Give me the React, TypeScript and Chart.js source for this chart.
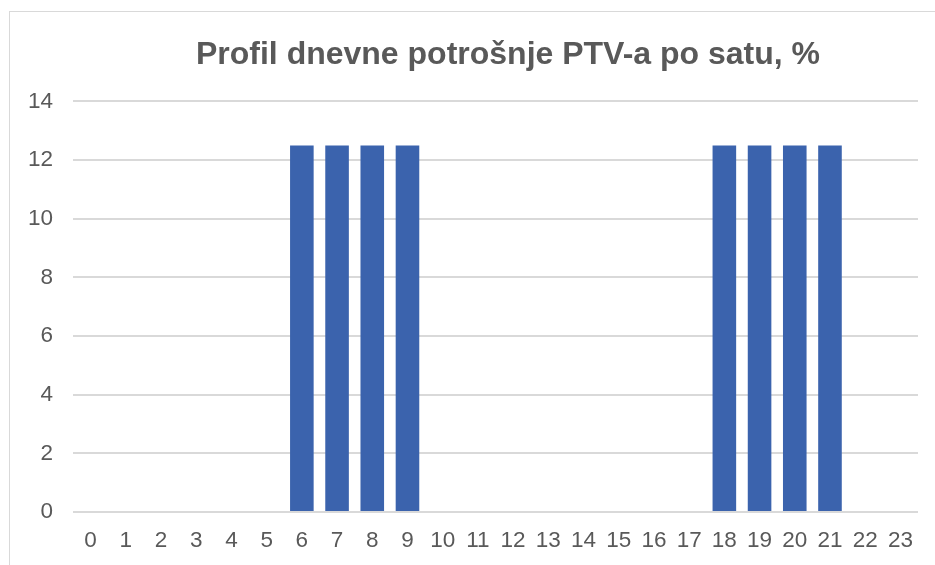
import React, { useEffect, useRef } from "react";
import { Chart, registerables } from "chart.js";

Chart.register(...registerables);

const hours: string[] = ["0","1","2","3","4","5","6","7","8","9","10","11","12","13","14","15","16","17","18","19","20","21","22","23"];
const consumption: number[] = [0,0,0,0,0,0,12.5,12.5,12.5,12.5,0,0,0,0,0,0,0,0,12.5,12.5,12.5,12.5,0,0];
const yTicks: number[] = [0, 2, 4, 6, 8, 10, 12, 14];
const titleText = "Profil dnevne potrošnje PTV-a po satu, %";

export default function App() {
  const ref = useRef<HTMLCanvasElement | null>(null);
  useEffect(() => {
    document.body.style.margin = "0";
    document.body.style.overflow = "hidden";
    if (!ref.current) return;
    const chart = new Chart(ref.current, {
      type: "bar",
      data: {
        labels: hours,
        datasets: [
          {
            data: consumption,
            backgroundColor: "#3B63AD",
            borderWidth: 0,
            barPercentage: 0.67,
            categoryPercentage: 1,
          },
        ],
      },
      options: {
        animation: false,
        responsive: false,
        maintainAspectRatio: false,
        layout: { padding: { left: 0, right: 0, top: 24, bottom: 0 } },
        plugins: {
          legend: { display: false },
          tooltip: { enabled: false },
          title: {
            display: true,
            text: titleText,
            color: "#595959",
            font: { family: "Liberation Sans, Arial", size: 32, weight: "bold" },
            padding: { top: 0, bottom: 27 },
          },
        },
        scales: {
          x: {
            grid: { display: false, drawTicks: false },
            border: { display: false },
            ticks: {
              color: "#595959",
              font: { family: "Liberation Sans, Arial", size: 22.5 },
              padding: 15,
              maxRotation: 0,
              autoSkip: false,
            },
          },
          y: {
            min: 0,
            max: 14,
            afterBuildTicks: (axis: any) => {
              axis.ticks = yTicks.map((v) => ({ value: v }));
            },
            grid: { color: "#D9D9D9", lineWidth: 2, drawTicks: false },
            border: { display: false },
            ticks: {
              color: "#595959",
              font: { family: "Liberation Sans, Arial", size: 22.5 },
              padding: 20,
            },
            afterFit: (axis: any) => {
              axis.width = 63;
            },
          },
          yRight: {
            position: "right",
            display: true,
            min: 0,
            max: 14,
            grid: { display: false, drawTicks: false },
            border: { display: false },
            ticks: { display: false },
            afterFit: (axis: any) => {
              axis.width = 88;
            },
          },
        },
      },
    });
    return () => chart.destroy();
  }, []);
  return (
    <div
      style={{
        position: "absolute",
        left: 9,
        top: 11,
        width: 996,
        height: 600,
        border: "1px solid #D9D9D9",
        background: "#fff",
      }}
    >
      <canvas ref={ref} width={996} height={557} style={{ display: "block" }} />
    </div>
  );
}
